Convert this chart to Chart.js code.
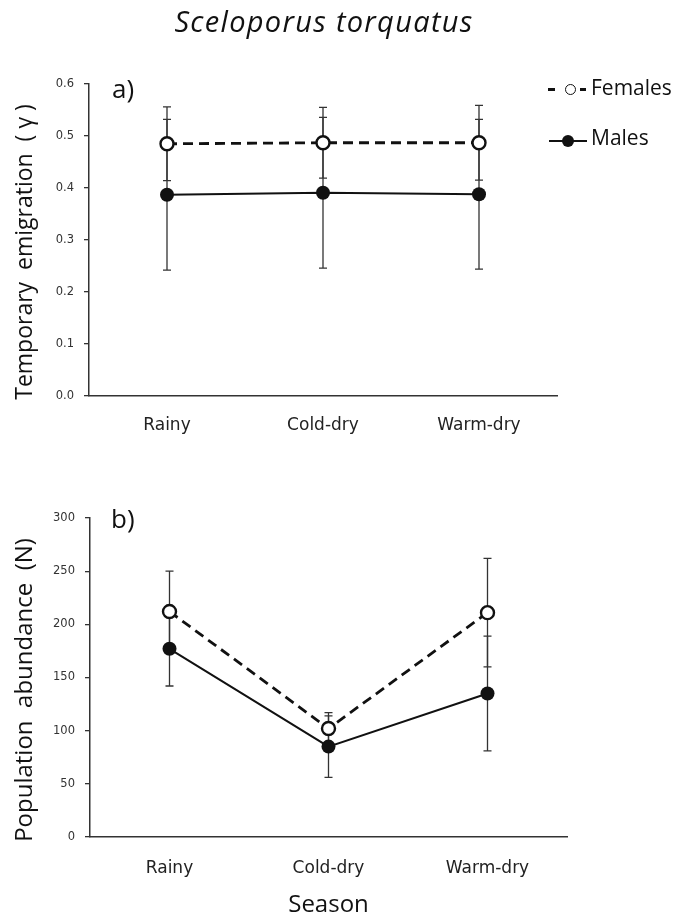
<!DOCTYPE html>
<html>
<head>
<meta charset="utf-8">
<script src="https://cdn.jsdelivr.net/npm/chart.js@4/dist/chart.umd.min.js"></script>
<style>
  body { margin: 0; background: #fff; }
  #lienzo { position: relative; width: 678px; height: 922px; overflow: hidden; background: #fff; }
  .caja { position: absolute; left: 0; width: 678px; }
  .texto { position: absolute; line-height: 1; color: #111; font-family: "Open Sans", sans-serif; white-space: nowrap; }
  .raya { position: absolute; background: #111; }
  .punto { position: absolute; border-radius: 50%; box-sizing: border-box; }
</style>
</head>
<body>
<div id="lienzo">
  <div class="caja" style="top:0;height:440px"><canvas id="graficaEmigracion"></canvas></div>
  <div class="caja" style="top:440px;height:482px"><canvas id="graficaAbundancia"></canvas></div>

  <div class="texto" style="left:0;width:648px;top:6px;text-align:center;font-size:29px;font-style:italic;letter-spacing:1.3px">Sceloporus torquatus</div>

  <div class="texto" style="left:112px;top:75px;font-size:26px">a)</div>
  <div class="texto" style="left:111px;top:505px;font-size:26px">b)</div>

  <!-- leyenda: Females -->
  <div class="raya" style="left:548px;top:88px;width:7px;height:2.5px"></div>
  <div class="punto" style="left:564.5px;top:83.5px;width:11px;height:11px;border:1.6px solid #111;background:#fff"></div>
  <div class="raya" style="left:580px;top:88px;width:6px;height:2.5px"></div>
  <div class="texto" style="left:591px;top:77px;font-size:21px">Females</div>
  <!-- leyenda: Males -->
  <div class="raya" style="left:549px;top:140px;width:38px;height:2px"></div>
  <div class="punto" style="left:561.5px;top:135px;width:12px;height:12px;background:#111"></div>
  <div class="texto" style="left:591px;top:127px;font-size:21px">Males</div>
</div>

<script>
const estaciones = ['Rainy', 'Cold-dry', 'Warm-dry']; // categorias del eje x

// a) emigracion temporal (gamma)
const marcasEmigracion = [0, 0.1, 0.2, 0.3, 0.4, 0.5, 0.6];
const emigracionHembras = [0.485, 0.487, 0.487];
const errorEmigracionHembras = [0.071, 0.068, 0.072];
const emigracionMachos = [0.387, 0.391, 0.388];
const errorEmigracionMachos = [0.145, 0.145, 0.144];

// b) abundancia poblacional (N)
const marcasAbundancia = [0, 50, 100, 150, 200, 250, 300];
const abundanciaHembras = [212, 102, 211];
const errorAbundanciaHembras = [38, 15, 51];
const abundanciaMachos = [177, 85, 135];
const errorAbundanciaMachos = [35, 29, 54];

const colorEje = '#333';

// plugin que dibuja las barras de error debajo de los puntos
const barrasError = {
  id: 'barrasError',
  beforeDatasetsDraw(chart) {
    const ctx = chart.ctx;
    const escalaY = chart.scales.y;
    ctx.save();
    ctx.strokeStyle = '#333';
    ctx.lineWidth = 1.3;
    chart.data.datasets.forEach((ds, i) => {
      const meta = chart.getDatasetMeta(i);
      ds.errores.forEach((e, j) => {
        const x = meta.data[j].x;
        const arriba = escalaY.getPixelForValue(ds.data[j] + e);
        const abajo = escalaY.getPixelForValue(ds.data[j] - e);
        ctx.beginPath();
        ctx.moveTo(x, arriba); ctx.lineTo(x, abajo);
        ctx.moveTo(x - 4, arriba); ctx.lineTo(x + 4, arriba);
        ctx.moveTo(x - 4, abajo); ctx.lineTo(x + 4, abajo);
        ctx.stroke();
      });
    });
    ctx.restore();
  }
};

function crearGrafica(id, hembras, errHembras, machos, errMachos, marcas, opciones) {
  const ctx = document.getElementById(id).getContext('2d');
  return new Chart(ctx, {
    type: 'line',
    data: {
      labels: estaciones,
      datasets: [{
        label: 'Females',
        data: hembras,
        errores: errHembras,
        borderColor: '#111',
        borderWidth: 2.8,
        borderDash: [10, 6],
        pointRadius: 6.5,
        pointBorderWidth: 2.4,
        pointBackgroundColor: '#fff',
        pointBorderColor: '#111',
        tension: 0
      }, {
        label: 'Males',
        data: machos,
        errores: errMachos,
        borderColor: '#111',
        borderWidth: 2,
        pointRadius: 7,
        pointBorderWidth: 0,
        pointBackgroundColor: '#111',
        tension: 0
      }]
    },
    options: {
      responsive: true,
      maintainAspectRatio: false,
      animation: false,
      layout: { padding: opciones.padding },
      plugins: { legend: { display: false }, tooltip: { enabled: false }, title: { display: false } },
      scales: {
        x: {
          type: 'category',
          offset: true,
          grid: { display: false },
          border: { color: colorEje, width: 1.5 },
          ticks: { font: { family: 'DejaVu Sans', size: 17 }, color: '#222', padding: opciones.paddingX },
          title: opciones.tituloX,
          afterFit: s => { s.height = opciones.altoX; }
        },
        y: {
          min: marcas[0],
          max: marcas[marcas.length - 1],
          afterBuildTicks: s => { s.ticks = marcas.map(v => ({ value: v })); },
          ticks: { font: { family: 'DejaVu Sans', size: 11.5 }, color: '#333', padding: 10, callback: opciones.formato },
          grid: { drawOnChartArea: false, tickLength: 5, color: colorEje, lineWidth: 1.3 },
          border: { color: colorEje, width: 1.5 },
          title: {
            display: true,
            text: opciones.tituloY,
            font: { family: 'Open Sans', size: opciones.letraY },
            color: '#111',
            padding: { top: 25 - opciones.letraY * 0.6, bottom: 0 }
          },
          afterFit: s => { s.width = opciones.anchoY; }
        }
      }
    },
    plugins: [barrasError]
  });
}

crearGrafica('graficaEmigracion', emigracionHembras, errorEmigracionHembras, emigracionMachos, errorEmigracionMachos, marcasEmigracion, {
  padding: { top: 84, right: 121, left: 0, bottom: 0 },
  anchoY: 89,
  altoX: 44,
  paddingX: 11.5,
  tituloX: { display: false },
  letraY: 23,
  tituloY: 'Temporary  emigration  ( γ )    ',
  formato: v => v.toFixed(1)
});

crearGrafica('graficaAbundancia', abundanciaHembras, errorAbundanciaHembras, abundanciaMachos, errorAbundanciaMachos, marcasAbundancia, {
  padding: { top: 78, right: 111, left: 0, bottom: 0 },
  anchoY: 90,
  altoX: 85,
  paddingX: 13.5,
  tituloX: { display: true, text: 'Season', font: { family: 'Open Sans', size: 24 }, color: '#111', padding: { top: 0, bottom: 2 } },
  letraY: 24,
  tituloY: 'Population  abundance  (N)    ',
  formato: v => String(v)
});
</script>
</body>
</html>
